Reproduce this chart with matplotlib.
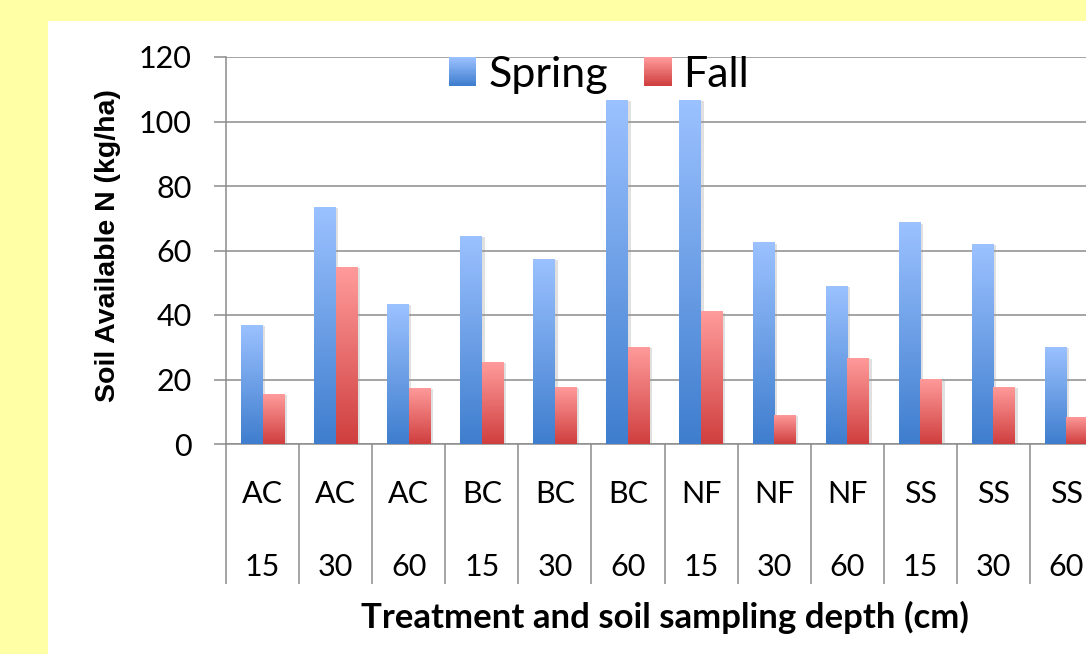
import matplotlib
matplotlib.use('Agg')
import matplotlib.pyplot as plt
import matplotlib.patheffects as pe
import numpy as np
from matplotlib.colors import to_rgb
from matplotlib.legend_handler import HandlerBase
from matplotlib.patches import Rectangle

plt.rcParams['font.family'] = ['Lato', 'DejaVu Sans']

treatments = ['AC', 'AC', 'AC', 'BC', 'BC', 'BC', 'NF', 'NF', 'NF', 'SS', 'SS', 'SS']
depths = ['15', '30', '60', '15', '30', '60', '15', '30', '60', '15', '30', '60']
spring = [37.0, 73.5, 43.4, 64.5, 57.4, 106.7, 106.7, 62.6, 49.0, 68.8, 62.0, 30.1]
fall = [15.5, 54.9, 17.4, 25.4, 17.7, 30.1, 41.2, 9.0, 26.7, 20.2, 17.7, 8.4]

BLUE = ('#9BC1FF', '#3F7ECE')
RED = ('#FF9B9B', '#D03F3F')
GRID = '#8C8C8C'


def gradient(top, bottom, n=64):
    t = np.array(to_rgb(top))
    b = np.array(to_rgb(bottom))
    f = np.linspace(0, 1, n)[:, None]
    return (t * (1 - f) + b * f)[:, None, :]


class GradientHandler(HandlerBase):
    def __init__(self, colors, steps=24):
        super().__init__()
        self.colors = colors
        self.steps = steps

    def create_artists(self, legend, orig_handle, xdescent, ydescent,
                       width, height, fontsize, trans):
        cols = gradient(self.colors[0], self.colors[1], self.steps)[:, 0, :]
        arts = []
        for i in range(self.steps):
            # i=0 is the top slice
            y = -ydescent + height * (self.steps - 1 - i) / self.steps
            arts.append(Rectangle((-xdescent, y), width, height / self.steps + 0.3,
                                  facecolor=cols[i], edgecolor='none', transform=trans))
        return arts


def draw_series(ax, x, values, colors):
    bars = ax.bar(x, values, width=0.295, color=colors[1], edgecolor='none', zorder=2)
    for bar in bars:
        bar.set_path_effects([pe.SimplePatchShadow(offset=(2, -1), shadow_rgbFace='#999999', alpha=0.3),
                              pe.Normal()])
        x0 = bar.get_x()
        w = bar.get_width()
        h = bar.get_height()
        im = ax.imshow(gradient(colors[0], colors[1]), extent=[x0, x0 + w, 0, h],
                       origin='upper', aspect='auto', interpolation='bilinear', zorder=3)
        im.set_clip_path(bar)
    return bars


def main():
    fig = plt.figure(figsize=(10.86, 6.54), dpi=100)
    fig.patch.set_facecolor('#FFFFA5')
    fig.add_artist(Rectangle((48 / 1086, 0), 1, 633 / 654, transform=fig.transFigure,
                             facecolor='white', edgecolor='none', zorder=-5))

    ax = fig.add_axes([226 / 1086, 210 / 654, 877 / 1086, 387 / 654])
    ax.set_facecolor('none')

    x = np.arange(len(spring))
    draw_series(ax, x - 0.1475, spring, BLUE)
    draw_series(ax, x + 0.1475, fall, RED)

    ax.set_xlim(-0.5, len(spring) - 0.5)
    ax.set_ylim(0, 120)
    ax.set_aspect('auto')

    ax.set_yticks(np.arange(0, 121, 20))
    ax.yaxis.grid(True, color=GRID, linewidth=1.1)
    ax.set_axisbelow(True)
    ax.tick_params(axis='y', length=8.6, width=1.1, color=GRID, pad=16, labelsize=22)

    ax.set_xticks(np.arange(-0.5, len(spring), 1))
    ax.set_xticklabels([])
    ax.tick_params(axis='x', which='major', length=101, width=1.1, color=GRID)
    ax.set_xticks(x, minor=True)
    ax.set_xticklabels([t + '\n\n' + d for t, d in zip(treatments, depths)], minor=True)
    ax.tick_params(axis='x', which='minor', length=0, pad=26, labelsize=22)
    for lbl in ax.get_xticklabels(minor=True):
        lbl.set_linespacing(1.37)

    for side in ['top', 'right']:
        ax.spines[side].set_visible(False)
    for side in ['left', 'bottom']:
        ax.spines[side].set_color(GRID)
        ax.spines[side].set_linewidth(1.1)

    ax.set_ylabel('Soil Available N (kg/ha)', fontsize=20.5, fontweight='bold',
                  family=['Liberation Sans', 'DejaVu Sans'])
    ax.yaxis.label.set_verticalalignment('center')
    ax.yaxis.set_label_coords(-0.1345, 0.513)
    ax.set_xlabel('Treatment and soil sampling depth (cm)', fontsize=25, fontweight='bold')
    ax.xaxis.label.set_verticalalignment('center')
    ax.xaxis.set_label_coords(0.5006, -0.448)

    handles = [Rectangle((0, 0), 1, 1), Rectangle((0, 1), 1, 1)]
    ax.legend(handles, ['Spring', 'Fall'], ncol=2, frameon=False,
              handler_map={handles[0]: GradientHandler(BLUE), handles[1]: GradientHandler(RED)},
              fontsize=31, handlelength=0.63, handleheight=0.65, handletextpad=0.28,
              columnspacing=0.85, borderpad=0, borderaxespad=0,
              loc='center left', bbox_to_anchor=(449 / 1086, (654 - 75) / 654),
              bbox_transform=fig.transFigure)

    fig.savefig('out.png', dpi=100)


if __name__ == '__main__':
    main()
